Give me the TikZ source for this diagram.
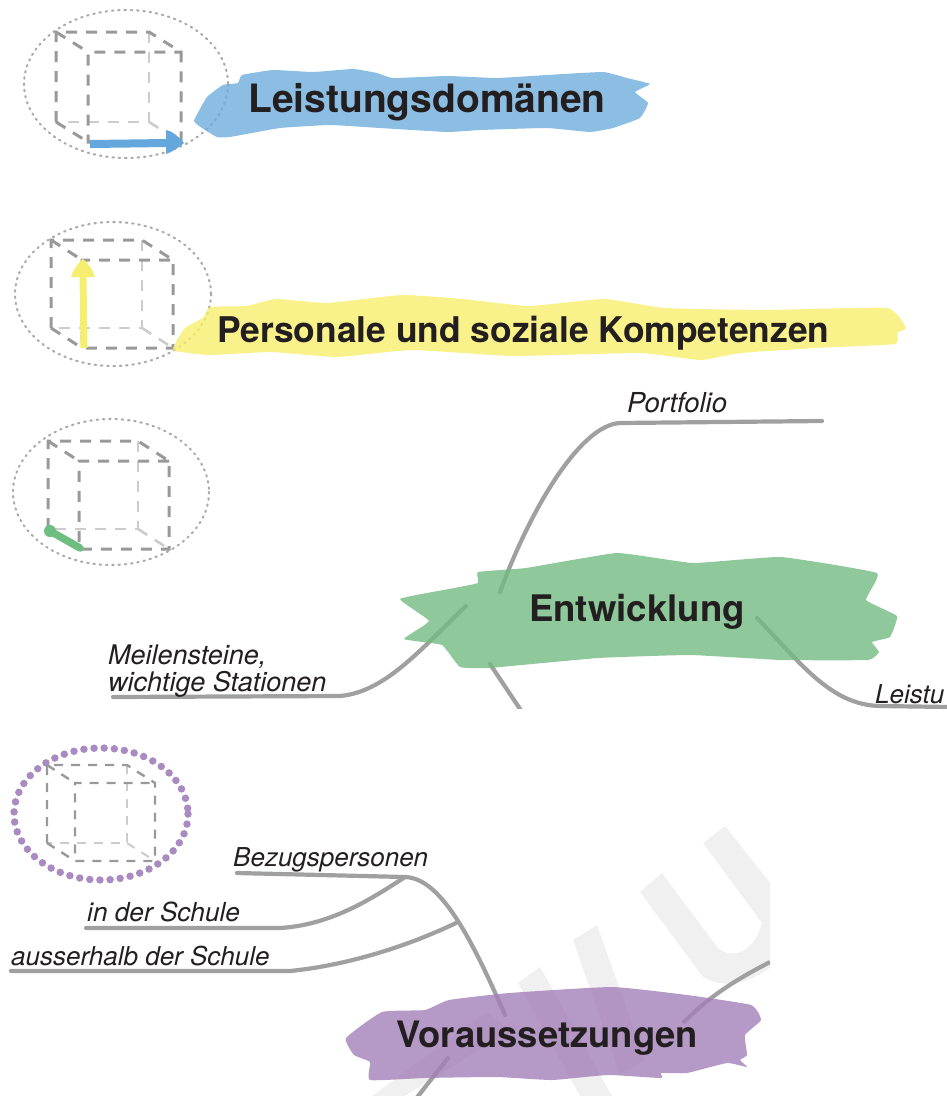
\documentclass[tikz,border=0pt]{standalone}
\usepackage{fontspec}
\setmainfont{TeX Gyre Heros}
\definecolor{ink}{HTML}{231F20}
\definecolor{linegray}{HTML}{A0A0A0}
\definecolor{dashdark}{HTML}{999999}
\definecolor{dashlight}{HTML}{CCCCCC}
\definecolor{dotgray}{HTML}{ABABAB}
\definecolor{wm}{HTML}{F0F0F0}
\definecolor{blueb}{HTML}{6FACDB}
\definecolor{yellowb}{HTML}{F7ED6C}
\definecolor{greenb}{HTML}{73BA82}
\definecolor{purpleb}{HTML}{A37FB8}
\definecolor{bluearrow}{HTML}{63A7DC}
\definecolor{yellowarrow}{HTML}{F6EE6E}
\definecolor{greenarrow}{HTML}{6DBE80}
\definecolor{purpledot}{HTML}{A98BC2}
\tikzset{
  conn/.style={draw=linegray,line width=4.2pt,line cap=round},
  cubedark/.style={draw=dashdark,line width=3pt,dash pattern=on 11pt off 9pt},
  cubelight/.style={draw=dashlight,line width=2.6pt,dash pattern=on 11pt off 9pt},
  ringdot/.style={draw=dotgray,line width=2.1pt,line cap=round,dash pattern=on 1.5pt off 4.8pt},
  ringpurple/.style={draw=purpledot,line width=7.5pt,line cap=round,dash pattern=on 0pt off 10.15pt},
  blob/.style={fill opacity=.8,draw=none},
  title/.style={anchor=base west,inner sep=0pt,text=ink,font=\bfseries\fontsize{#1}{#1}\selectfont},
  lab/.style={anchor=base west,inner sep=0pt,text=ink,font=\itshape\fontsize{#1}{#1}\selectfont},
  wmark/.style={fill=wm,draw=none}
}
\newcommand{\cubeat}[6]{%
  % back-top-left x,y ; width,height ; front offset dx,dy
  \draw[cubelight] (#1+#3,#2) -- (#1+#3,#2+#4) -- (#1,#2+#4);
  \draw[cubelight] (#1+#3,#2+#4) -- (#1+#3+#5,#2+#4+#6);
  \draw[cubedark] (#1,#2+#4) -- (#1,#2) -- (#1+#3,#2) -- (#1+#3+#5,#2+#6) -- (#1+#3+#5,#2+#4+#6) -- (#1+#5,#2+#4+#6) -- (#1+#5,#2+#6) -- (#1+#3+#5,#2+#6);
  \draw[cubedark] (#1,#2) -- (#1+#5,#2+#6);
  \draw[cubedark] (#1,#2+#4) -- (#1+#5,#2+#4+#6);
}
\begin{document}
\begin{tikzpicture}[x=1pt,y=-1pt]
\useasboundingbox (0,0) rectangle (947,1096);
% watermark
\begin{scope}
  \clip (0,800) rectangle (770,1096);
  \path[wmark] (725,826) -- (790,908) -- (790,960) -- (770,968) .. controls (750,982) and (725,990) .. (703,977) -- (640,892) -- (662,873) -- (717,947) .. controls (728,958) and (752,958) .. (762,923) -- (703,843) -- cycle;
  \path[wmark] (597,925) -- (573,940) -- (620,1075) -- (645,1060) -- cycle;
  \path[wmark] (540,967) -- (518,983) -- (580,1096) -- (612,1096) -- cycle;
  \path[wmark] (487,1012) -- (510,1030) -- (405,1096) -- (372,1096) -- cycle;
\end{scope}
% rings
\draw[ringdot] (126,84) ellipse [x radius=102,y radius=74];
\draw[ringdot] (113,294) ellipse [x radius=98,y radius=72];
\draw[ringdot] (111,492) ellipse [x radius=98,y radius=73];
\draw[ringpurple] (101,814) ellipse [x radius=87,y radius=66];
% cubes
\cubeat{56}{32}{93}{90}{32}{20}
\cubeat{51}{240}{91}{88}{31}{20}
\cubeat{48}{441}{90}{88}{31}{20}
\begin{scope}[cubedark/.append style={line width=2.4pt,dash pattern=on 9pt off 8pt},cubelight/.append style={line width=2.1pt,dash pattern=on 9pt off 8pt}]
\cubeat{47}{765}{80}{78}{28}{18}
\end{scope}
% axis arrows
\coordinate (bluestart) at (90,144);
\coordinate (blueneck) at (168,143);
\coordinate (yellowstart) at (84,348);
\coordinate (yellowneck) at (83,275);
\coordinate (greenstart) at (50,531);
\coordinate (greenend) at (80,548);
\draw[bluearrow,line width=8pt] (bluestart) -- (blueneck);
\fill[bluearrow] (166,130) .. controls (172,131) and (178,136) .. (184,143) .. controls (178,148) and (172,152) .. (166,154) -- cycle;
\draw[yellowarrow,line width=7pt] (yellowstart) -- (yellowneck);
\fill[yellowarrow] (71,277) .. controls (73,270) and (78,263) .. (83,259) .. controls (88,263) and (93,270) .. (95,277) -- cycle;
\draw[greenarrow,line width=7.5pt,line cap=round] (greenstart) -- (greenend);
\fill[greenarrow] (greenstart) circle (6);
% connector end points
\coordinate (portfolioend) at (822,421);
\coordinate (portfolioroot) at (500,592);
\coordinate (meilenend) at (113,697);
\coordinate (meilenroot) at (466,606);
\coordinate (leistroot) at (757,618);
\coordinate (leistend) at (950,707);
\coordinate (downroot) at (490,664);
\coordinate (downend) at (522,712);
\coordinate (bezugend) at (237,873);
\coordinate (bezugroot) at (505,1015);
\coordinate (bezugknee) at (405,877);
\coordinate (schuleend) at (86,928);
\coordinate (aussenend) at (11,971);
\coordinate (aussenroot) at (456,923);
\coordinate (rightroot) at (683,1023);
\coordinate (rightend) at (770,962);
\coordinate (lowroot) at (448,1058);
\coordinate (lowend) at (415,1100);
% connectors
\begin{scope}
  \clip (0,380) rectangle (947,708);
  \draw[conn] (portfolioroot) .. controls (530,510) and (580,425) .. (620,423) -- (portfolioend);
  \draw[conn] (meilenend) -- (340,696) .. controls (385,692) and (420,650) .. (meilenroot);
  \draw[conn] (leistroot) .. controls (800,662) and (830,705) .. (880,706) -- (leistend);
  \draw[conn] (downroot) -- (downend);
\end{scope}
\draw[conn] (bezugend) -- (bezugknee) .. controls (440,878) and (470,935) .. (bezugroot);
\draw[conn] (schuleend) -- (280,928) .. controls (330,925) and (370,900) .. (bezugknee);
\draw[conn] (aussenend) -- (290,971) .. controls (350,965) and (410,945) .. (aussenroot);
\begin{scope}
  \clip (0,800) rectangle (770,1096);
  \draw[conn,line cap=butt] (rightroot) .. controls (712,993) and (745,975) .. (rightend);
  \draw[conn,line cap=round] (lowroot) -- (lowend);
\end{scope}
% brush strokes
\fill[blueb,blob] plot[smooth cycle,tension=.22] coordinates {(194,121) (207,97) (223,85) (238,83) (242,75) (273,70) (313,72) (353,69) (377,73) (393,78) (447,76) (497,78) (547,75) (603,72) (627,78) (650,84) (635,92) (648,103) (640,118) (613,128) (590,132) (547,128) (480,130) (447,132) (380,128) (330,125) (280,128) (230,137) (217,137) (205,130)};
\fill[yellowb,blob] plot[smooth cycle,tension=.25] coordinates {(173,350) (185,328) (203,318) (210,307) (246,306) (276,299) (327,303) (402,295) (463,299) (529,306) (604,299) (665,308) (766,310) (887,308) (906,328) (897,333) (895,344) (816,348) (741,353) (700,360) (640,353) (513,356) (412,350) (337,357) (271,352) (210,355)};
\fill[greenb,blob] plot[smooth cycle,tension=.2] coordinates {(400,599) (449,589) (478,583) (478,572) (526,568) (617,553) (693,563) (781,557) (877,573) (866,600) (897,616) (890,637) (872,642) (879,652) (868,660) (781,660) (690,655) (598,658) (489,668) (460,667) (442,645) (404,639) (429,621)};
\fill[purpleb,blob] plot[smooth cycle,tension=.25] coordinates {(346,1038) (382,1012) (425,1010) (449,1000) (509,993) (612,987) (687,995) (751,1005) (761,1020) (745,1035) (747,1055) (740,1060) (747,1067) (727,1063) (687,1073) (661,1073) (661,1078) (608,1075) (552,1080) (497,1077) (425,1078) (370,1080) (370,1062) (354,1055)};
% titles
\node[title=39] (leistungsdomaenen) at (248,112) {Leistungsdomänen};
\node[title=35.4] (personale) at (217,342) {Personale und soziale Kompetenzen};
\node[title=36.6] (entwicklung) at (529,621) {Entwicklung};
\node[title=36.4] (voraussetzungen) at (396,1047) {Voraussetzungen};
% labels
\node[lab=27.5] (portfolio) at (627,412) {Portfolio};
\node[lab=27] (meilen) at (108,664) {Meilensteine,};
\node[lab=27] (stationen) at (108,691) {wichtige Stationen};
\node[lab=26] (leistu) at (875,703) {Leistu};
\node[lab=26] (bezug) at (233,866) {Bezugspersonen};
\node[lab=26.2] (inschule) at (87,921) {in der Schule};
\node[lab=26] (aussen) at (11,965) {ausserhalb der Schule};
\end{tikzpicture}
\end{document}
